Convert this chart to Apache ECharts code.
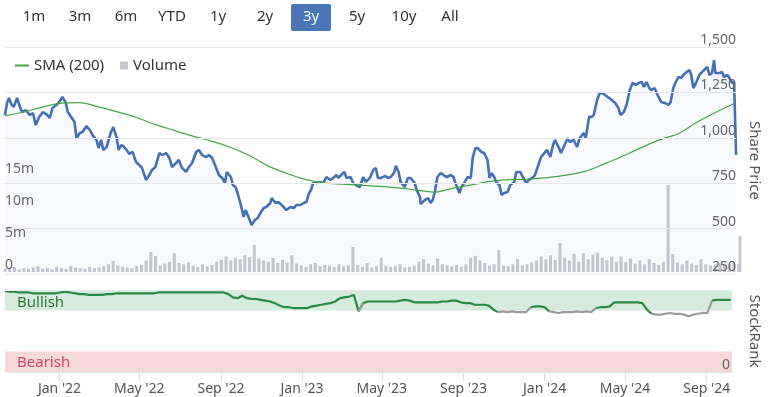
<!DOCTYPE html>
<html>
<head>
<meta charset="utf-8">
<script src="https://cdn.jsdelivr.net/npm/echarts@6/dist/echarts.min.js"></script>
<style>
html,body{margin:0;padding:0;background:#fff;}
#chart{width:770px;height:397px;}
</style>
</head>
<body>
<div id="chart"></div>
<script>
// ---- data ----
const rangeButtons = ['1m','3m','6m','YTD','1y','2y','3y','5y','10y','All'];
const activeRange = '3y';
const startDate = '2021-10-11';          // day 0 of all day offsets; left end of the axis
const axisEnd = '2024-10-09';
const xTickDates = ['2022-01-01','2022-05-01','2022-09-01','2023-01-01','2023-05-01','2023-09-01','2024-01-01','2024-05-01','2024-09-01'];
const priceTicks = [250, 500, 750, 1000, 1250, 1500];

// share price observations: day offset since startDate, and price
const priceDays = [
0,3,6,10,13,18,24,27,31,37,42,46,51,57,63,67,71,77,80,86,
91,94,100,104,107,112,116,122,127,131,137,140,144,147,152,158,162,167,170,174,
177,182,186,191,196,201,205,211,216,220,225,231,235,241,246,250,256,260,265,271,
275,280,286,290,295,301,305,310,316,320,325,329,332,338,341,345,348,353,357,360,
365,369,374,378,383,387,391,397,399,405,409,414,421,427,432,436,442,447,451,455,
458,461,466,472,476,481,487,491,496,499,503,508,511,517,521,525,531,536,540,546,
551,555,558,563,569,573,577,582,585,589,592,598,603,607,613,616,621,622,628,633,
637,640,643,647,652,656,661,667,671,674,680,683,688,692,697,700,704,707,710,713,
717,722,725,728,732,735,740,743,747,752,756,762,765,771,775,780,784,789,793,798,
802,807,811,816,820,823,829,832,836,842,845,851,856,860,866,869,874,878,881,886,
890,893,898,904,908,913,918,921,926,930,935,939,944,948,953,956,960,964,967,972,
978,982,987,993,996,1000,1003,1008,1012,1015,1020,1024,1027,1030,1034,1039,1043,1046,1051,1054,
1058,1061,1063,1069,1073,1076,1081,1084,1088,1091,1094
];
const priceValues = [
1126,1192,1219,1181,1170,1219,1153,1142,1153,1126,1135,1070,1115,1142,1126,1109,1164,1181,1192,1225,
1192,1142,1109,1087,999,1026,1032,1065,1043,1015,988,944,988,933,949,1026,1059,1004,933,960,
955,933,911,922,867,850,834,768,795,823,839,916,905,916,889,839,861,878,834,812,
839,861,922,933,905,894,905,889,834,795,779,751,812,784,740,729,696,630,564,602,
558,520,547,558,591,613,619,641,668,641,646,630,602,619,613,630,630,641,646,696,
713,751,751,757,751,784,768,779,795,779,795,812,779,784,751,740,729,784,757,779,
823,834,779,779,790,779,784,806,845,812,757,729,779,779,751,713,674,635,657,668,
641,657,701,784,806,795,784,795,784,751,696,729,757,784,779,894,944,944,933,922,
916,878,779,806,784,757,740,685,696,701,740,757,812,812,784,751,768,779,795,850,
894,916,933,894,960,988,944,916,949,999,977,988,949,999,1026,999,1115,1115,1126,1208,
1247,1247,1236,1219,1208,1192,1164,1126,1142,1181,1263,1302,1291,1302,1307,1280,1307,1274,1263,1274,
1225,1197,1192,1181,1197,1274,1302,1335,1329,1346,1362,1373,1346,1274,1302,1346,1362,1373,1390,1346,
1357,1428,1357,1357,1362,1335,1346,1329,1302,1307,905
];

// SMA (200), one reading every 28 days
const smaValues = [
1121,1142,1169,1191,1194,1170,1143,1113,1074,1042,
1011,983,949,905,848,806,772,752,745,739,
732,724,712,701,724,742,761,770,773,781,
794,815,855,898,946,990,1024,1087,1141,1190
];
const smaStepDays = 28;

// weekly volume (millions), one bar per week from startDate, plus the last day
const weeklyVolume = [
0.6,0.5,0.8,0.4,0.6,0.5,0.7,0.9,0.5,0.6,
0.4,0.8,0.6,0.5,0.9,0.7,0.6,0.5,0.8,0.6,
0.7,0.9,1.2,1.7,1.0,0.8,0.7,0.6,0.9,1.1,
1.8,3.1,2.5,1.0,1.3,1.6,2.9,1.4,1.2,1.5,
1.0,0.8,1.2,0.9,1.1,1.6,1.9,2.4,1.8,2.2,
2.0,2.6,2.3,4.2,2.1,1.8,1.6,2.2,1.4,1.9,
1.5,2.6,1.3,1.0,0.8,1.2,1.4,0.9,1.1,1.0,
0.8,1.2,0.9,1.0,3.9,1.1,0.8,1.4,0.7,0.9,
2.2,1.0,0.8,0.9,1.2,0.7,0.8,1.0,1.6,2.0,
1.3,1.0,2.1,1.2,1.0,0.9,1.1,0.8,1.2,2.2,
2.5,1.8,1.4,1.0,1.2,3.4,1.0,0.9,1.2,2.0,
1.0,1.2,1.5,1.8,2.4,2.0,2.6,1.9,4.5,2.2,
1.8,2.8,1.6,2.9,2.0,2.7,3.0,2.2,1.8,2.4,
1.6,2.4,1.5,2.1,1.3,1.8,1.2,2.0,1.4,1.1,
1.6,13.5,2.8,1.5,1.2,1.8,1.3,1.1,2.0,1.2,
1.0,1.2,1.4,1.1,1.3,1.5,1.2
];
const lastVolume = 5.6;

// weekly StockRank
const weeklyRank = [
99,98,98,97,97,97,96,96,96,96,
96,96,97,98,97,96,95,95,94,94,
94,94,95,95,96,96,96,96,96,96,
96,96,96,97,97,97,97,97,97,97,
97,97,97,97,97,97,97,97,95,91,
90,93,90,89,89,88,87,86,84,81,
79,79,78,78,78,78,80,81,82,83,
84,86,90,91,92,94,74,84,86,86,
86,86,86,86,86,87,88,87,85,85,
85,85,85,85,86,86,87,87,85,84,
84,82,82,82,81,76,73,74,73,74,
73,73,73,79,80,80,79,74,73,72,
73,73,73,74,73,74,73,78,79,79,
80,85,85,85,85,85,85,84,76,71,
70,70,71,72,71,71,70,68,70,71,
72,72,87,88,88,88,88
];
const bullishFrom = 75, bearishTo = 25;

// ---- build ----
const DAY = 86400000;
const t0 = Date.parse(startDate + 'T00:00:00Z');
const tEnd = Date.parse(axisEnd + 'T00:00:00Z');
const dayTs = d => t0 + d * DAY;

const priceData = priceDays.map((d, i) => [dayTs(d), priceValues[i]]);
const smaData = smaValues.map((v, k) => [dayTs(k * smaStepDays), v]);
const volData = weeklyVolume.map((v, i) => [dayTs(i * 7), v]).concat([[tEnd, lastVolume]]);
const rankTs = weeklyRank.map((_, i) => dayTs(i * 7));
// segment colour follows its starting point: green when in the bullish zone, grey otherwise
const rankGreen = weeklyRank.map((v, i) => [rankTs[i], (v >= bullishFrom || (i > 0 && weeklyRank[i-1] >= bullishFrom)) ? v : null]);
const rankGrey = weeklyRank.map((v, i) => [rankTs[i], (v < bullishFrom || (i > 0 && weeklyRank[i-1] < bullishFrom)) ? v : null]);

const tickTs = xTickDates.map(d => Date.parse(d + 'T00:00:00Z'));
const MONTHS = ['Jan','Feb','Mar','Apr','May','Jun','Jul','Aug','Sep','Oct','Nov','Dec'];
const fmtDate = v => { const d = new Date(v); return MONTHS[d.getUTCMonth()] + " '" + String(d.getUTCFullYear()).slice(2); };

const FONT = '"Noto Sans", "Open Sans", sans-serif';

// range buttons as graphic text
const btnCenters = [34, 80, 126, 172, 218, 265, 311, 357, 404, 450];
const graphics = [];
rangeButtons.forEach((b, i) => {
  if (b === activeRange) {
    graphics.push({type:'rect', shape:{x:btnCenters[i]-20, y:4, width:40, height:27, r:2}, style:{fill:'#4a76b8'}, z:10});
  }
  graphics.push({type:'text', x:btnCenters[i], y:17, z:11, style:{text:b, fill: b===activeRange?'#fff':'#333', font:'15px ' + FONT, textAlign:'center', textVerticalAlign:'middle'}});
});

const chart = echarts.init(document.getElementById('chart'));
chart.setOption({
  animation: false,
  backgroundColor: '#fff',
  textStyle: {fontFamily: FONT},
  graphic: graphics,
  legend: [
    {data:[{name:'SMA (200)', icon:'rect'}], left:10, top:53, itemWidth:14, itemHeight:2,
     textStyle:{fontSize:15, color:'#333', fontFamily:FONT}, selectedMode:false},
    {data:[{name:'Volume', icon:'rect'}], left:115, top:53, itemWidth:8, itemHeight:8,
     textStyle:{fontSize:15, color:'#333', fontFamily:FONT}, selectedMode:false}
  ],
  grid: [
    {left:5, right:30, top:47, height:227},
    {left:5, right:30, top:47, height:225},
    {left:5, right:30, top:290, height:82}
  ],
  xAxis: [
    {type:'value', gridIndex:0, min:t0, max:tEnd, show:false},
    {type:'value', gridIndex:1, min:t0, max:tEnd, show:false},
    {type:'value', gridIndex:2, min:t0, max:tEnd,
     axisLine:{show:false},
     axisTick:{show:true, length:9, customValues:tickTs, lineStyle:{color:'#d8dce6'}},
     axisLabel:{customValues:tickTs, formatter:fmtDate, fontSize:14, color:'#555', margin:10, fontFamily:FONT},
     splitLine:{show:false}}
  ],
  yAxis: [
    {type:'value', gridIndex:0, position:'right', min:priceTicks[0], max:priceTicks[priceTicks.length-1], interval:250,
     z:10,
     axisLine:{show:false}, axisTick:{show:false},
     axisLabel:{inside:true, verticalAlign:'bottom', margin:0, fontSize:14, color:'#666', fontFamily:FONT,
       formatter: v => v.toLocaleString('en-US')},
     splitLine:{lineStyle:{color:'#e6e6e6'}},
     name:'Share Price', nameLocation:'middle', nameRotate:-90, nameGap:8,
     nameTextStyle:{fontSize:15, color:'#555', fontFamily:FONT}},
    {type:'value', gridIndex:1, position:'left', min:0, max:35, interval:5,
     z:10,
     axisLine:{show:false}, axisTick:{show:false}, splitLine:{show:false},
     axisLabel:{inside:true, verticalAlign:'bottom', margin:0, fontSize:14, color:'#666', fontFamily:FONT,
       formatter: v => v === 0 ? '0' : (v <= 15 ? v + 'm' : '')}},
    {type:'value', gridIndex:2, position:'right', min:0, max:100, interval:100,
     z:10,
     axisLine:{show:false}, axisTick:{show:false},
     axisLabel:{inside:true, verticalAlign:'bottom', margin:2, fontSize:14, color:'#666', fontFamily:FONT,
       showMinLabel:true, formatter: v => v === 0 ? '0' : ''},
     splitLine:{lineStyle:{color:'#e6e6e6'}},
     name:'StockRank', nameLocation:'middle', nameRotate:-90, nameGap:15,
     nameTextStyle:{fontSize:15, color:'#555', fontFamily:FONT}}
  ],
  series: [
    {name:'Volume', type:'bar', xAxisIndex:1, yAxisIndex:1, data:volData, barWidth:3,
     itemStyle:{color:'#c8c8d0'}, z:1, silent:true},
    {name:'Share Price', type:'line', xAxisIndex:0, yAxisIndex:0, data:priceData, showSymbol:false,
     lineStyle:{color:'#4470b5', width:2.6}, itemStyle:{color:'#4470b5'},
     areaStyle:{color:'rgba(68,112,181,0.055)', origin:'start'}, z:3},
    {name:'SMA (200)', type:'line', xAxisIndex:0, yAxisIndex:0, data:smaData, showSymbol:false, smooth:0.3,
     lineStyle:{color:'#43a83f', width:1.2}, itemStyle:{color:'#43a83f'}, z:4},
    {name:'StockRank', type:'line', xAxisIndex:2, yAxisIndex:2, data:rankGreen, showSymbol:false,
     lineStyle:{width:2.2, color:'#2a8a45'}, itemStyle:{color:'#2a8a45'}, z:5,
     markArea:{silent:true, z:1, data:[
       [{yAxis:bullishFrom, itemStyle:{color:'#d5ebdb'}, label:{show:true, formatter:'Bullish', position:'insideLeft', distance:12, offset:[0,2], fontSize:15, color:'#2f7a3a', fontFamily:FONT}}, {yAxis:100}],
       [{yAxis:0, itemStyle:{color:'#f5d8da'}, label:{show:true, formatter:'Bearish', position:'insideLeft', distance:12, offset:[0,1], fontSize:15, color:'#d8475e', fontFamily:FONT}}, {yAxis:bearishTo}]
     ]}},
    {name:'StockRank (below bullish)', type:'line', xAxisIndex:2, yAxisIndex:2, data:rankGrey, showSymbol:false,
     lineStyle:{width:2.2, color:'#9a9a9a'}, itemStyle:{color:'#9a9a9a'}, z:5}
  ]
});
</script>
</body>
</html>
